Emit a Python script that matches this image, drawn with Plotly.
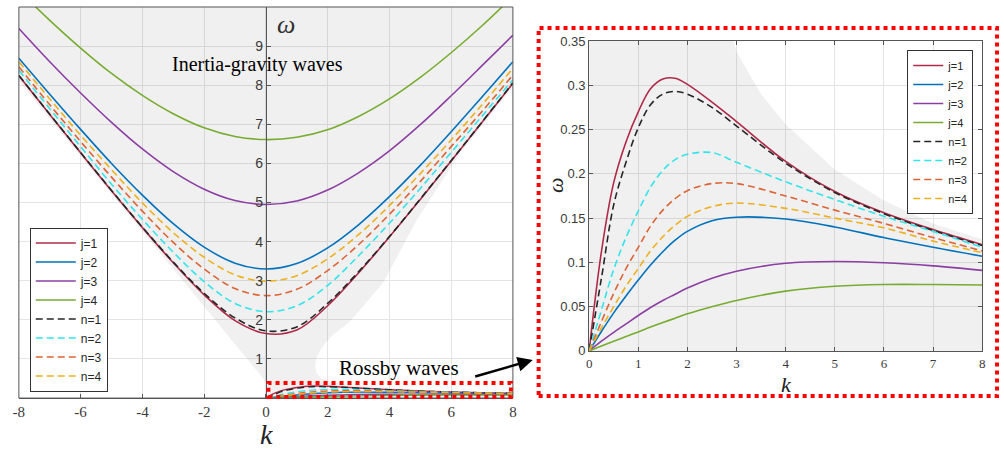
import plotly.graph_objects as go

W, H = 1004, 453

# ---------------- data ----------------
# Inertia-gravity branch (left panel)
k_ig = [-8, -7, -6, -5, -4, -3, -2, -1, 0, 1, 2, 3, 4, 5, 6, 7, 8]
ig_j1 = [8.24, 7.25, 6.27, 5.30, 4.36, 3.46, 2.64, 1.98, 1.65, 1.74, 2.36, 3.20, 4.12, 5.08, 6.06, 7.05, 8.05]
ig_j2 = [8.69, 7.77, 6.87, 6.00, 5.19, 4.46, 3.86, 3.45, 3.30, 3.44, 3.84, 4.43, 5.15, 5.95, 6.81, 7.70, 8.60]
ig_j3 = [9.45, 8.60, 7.80, 7.05, 6.37, 5.79, 5.34, 5.05, 4.95, 5.04, 5.32, 5.76, 6.32, 6.99, 7.73, 8.50, 9.28]
ig_j4 = [10.42, 9.66, 8.95, 8.30, 7.74, 7.27, 6.91, 6.69, 6.61, 6.67, 6.86, 7.20, 7.65, 8.20, 8.83, 9.52, 10.27]
ig_n1 = [8.25, 7.26, 6.28, 5.31, 4.37, 3.48, 2.68, 2.05, 1.72, 1.82, 2.42, 3.23, 4.13, 5.09, 6.07, 7.06, 8.06]
ig_n2 = [8.38, 7.40, 6.43, 5.47, 4.57, 3.73, 2.98, 2.42, 2.21, 2.36, 2.88, 3.64, 4.47, 5.36, 6.28, 7.21, 8.14]
ig_n3 = [8.47, 7.50, 6.56, 5.65, 4.78, 3.98, 3.30, 2.80, 2.62, 2.78, 3.26, 3.92, 4.70, 5.54, 6.43, 7.33, 8.26]
ig_n4 = [8.60, 7.65, 6.72, 5.84, 4.99, 4.23, 3.60, 3.15, 2.99, 3.13, 3.56, 4.18, 4.92, 5.74, 6.60, 7.50, 8.43]

# Rossby branch (right panel, also drawn small in the left panel)
k_r = [0, 0.25, 0.5, 0.75, 1, 1.25, 1.5, 1.75, 2, 2.5, 3, 4, 5, 6, 7, 8]
r_j1 = [0, 0.112, 0.190, 0.236, 0.270, 0.296, 0.307, 0.308, 0.301, 0.281, 0.259, 0.214, 0.180, 0.156, 0.137, 0.120]
r_j2 = [0, 0.022, 0.043, 0.062, 0.080, 0.097, 0.112, 0.125, 0.135, 0.147, 0.151, 0.149, 0.140, 0.128, 0.117, 0.107]
r_j3 = [0, 0.011, 0.021, 0.0305, 0.040, 0.049, 0.057, 0.064, 0.071, 0.082, 0.090, 0.099, 0.101, 0.0995, 0.096, 0.091]
r_j4 = [0, 0.0055, 0.011, 0.0163, 0.0215, 0.027, 0.032, 0.037, 0.042, 0.050, 0.057, 0.0675, 0.073, 0.075, 0.075, 0.0745]
r_n1 = [0, 0.082, 0.165, 0.213, 0.252, 0.278, 0.290, 0.293, 0.290, 0.275, 0.254, 0.212, 0.179, 0.155, 0.136, 0.119]
r_n2 = [0, 0.046, 0.092, 0.128, 0.158, 0.185, 0.204, 0.216, 0.222, 0.224, 0.213, 0.191, 0.171, 0.152, 0.135, 0.117]
r_n3 = [0, 0.033, 0.065, 0.093, 0.117, 0.141, 0.159, 0.172, 0.181, 0.189, 0.189, 0.175, 0.159, 0.144, 0.128, 0.113]
r_n4 = [0, 0.026, 0.050, 0.073, 0.093, 0.113, 0.129, 0.142, 0.152, 0.163, 0.167, 0.161, 0.150, 0.139, 0.124, 0.111]

# shaded (grey) admissible regions
ig_left_k = [0, -8]
ig_left_w = [0.42, 8.1]
ig_edge_k = [8.0, 6.3, 4.9, 3.8, 2.7, 2.15, 1.85, 1.65, 1.6, 1.64, 1.8, 2.3]
ig_edge_w = [7.95, 6.27, 4.57, 2.95, 1.94, 1.6, 1.34, 1.05, 0.83, 0.65, 0.49, 0.38]
ro_edge_k = [2.94, 3, 3.5, 4, 5, 6, 7, 8]
ro_edge_w = [0.35, 0.338, 0.29, 0.256, 0.205, 0.170, 0.144, 0.126]

labels = ["j=1", "j=2", "j=3", "j=4", "n=1", "n=2", "n=3", "n=4"]
colors = ["#b02a48", "#0072BD", "#8c3fa3", "#77AC30", "#262626", "#33e4ea", "#dc6436", "#EDB120"]
dashes = ["solid"] * 4 + ["7px,4px"] * 4
ig_series = [ig_j1, ig_j2, ig_j3, ig_j4, ig_n1, ig_n2, ig_n3, ig_n4]
r_series = [r_j1, r_j2, r_j3, r_j4, r_n1, r_n2, r_n3, r_n4]

x_ticks_left = [-8, -6, -4, -2, 0, 2, 4, 6, 8]
y_ticks_left = [1, 2, 3, 4, 5, 6, 7, 8, 9]
x_ticks_right = [0, 1, 2, 3, 4, 5, 6, 7, 8]
y_ticks_right = [0, 0.05, 0.1, 0.15, 0.2, 0.25, 0.3, 0.35]

# observed vertical mapping of the photographed page (page y -> picture y)
V_SCALE, V_OFF = 0.964, 6.1


def px(x):
    return x / W


def py(y):
    yp = (y - V_OFF) / V_SCALE
    return min(1.0, max(0.0, 1 - yp / H))


fig = go.Figure()

SHADE = "rgba(0,0,0,0.06)"

# left panel shading
left_poly_k = [-8, 8] + ig_edge_k + ro_edge_k + [8, 0] + ig_left_k
left_poly_w = [10, 10] + ig_edge_w + ro_edge_w + [0, 0] + ig_left_w
fig.add_trace(go.Scatter(x=left_poly_k, y=left_poly_w, fill="toself", fillcolor=SHADE,
                         line=dict(width=0), mode="lines", showlegend=False,
                         hoverinfo="skip", xaxis="x", yaxis="y"))
# right panel shading
right_poly_k = [0, 0] + ro_edge_k + [8]
right_poly_w = [0, 0.35] + ro_edge_w + [0]
fig.add_trace(go.Scatter(x=right_poly_k, y=right_poly_w, fill="toself", fillcolor=SHADE,
                         line=dict(width=0), mode="lines", showlegend=False,
                         hoverinfo="skip", xaxis="x2", yaxis="y2"))

# left panel curves
for lab, c, d, ys in zip(labels, colors, dashes, ig_series):
    fig.add_trace(go.Scatter(x=k_ig, y=ys, mode="lines", name=lab,
                             line=dict(color=c, width=1.6, dash=d, shape="spline"),
                             xaxis="x", yaxis="y", legend="legend"))
# Rossby curves in the left panel (tiny)
for lab, c, d, ys in zip(labels, colors, dashes, r_series):
    fig.add_trace(go.Scatter(x=k_r, y=ys, mode="lines", name=lab, showlegend=False,
                             line=dict(color=c, width=1.4, dash=d, shape="spline"),
                             xaxis="x", yaxis="y"))
# right panel curves
for lab, c, d, ys in zip(labels, colors, dashes, r_series):
    fig.add_trace(go.Scatter(x=k_r, y=ys, mode="lines", name=lab,
                             line=dict(color=c, width=1.6, dash=d, shape="spline"),
                             xaxis="x2", yaxis="y2", legend="legend2"))

AX = "#555555"
GRID = "#e4e4e4"
serif = "Liberation Serif"
sans = "Liberation Sans"

fig.update_layout(
    width=W, height=H,
    margin=dict(l=0, r=0, t=0, b=0),
    paper_bgcolor="white", plot_bgcolor="white",
    showlegend=True,
    xaxis=dict(domain=[px(13), px(512)], range=[-8, 8], tickvals=x_ticks_left,
               ticktext=[str(v) for v in x_ticks_left],
               tickfont=dict(family=serif, size=15, color="#3a3a3a"),
               showgrid=True, gridcolor=GRID, gridwidth=1, zeroline=False,
               showline=True, linecolor=AX, linewidth=1, ticks="inside", ticklen=4,
               tickcolor=AX, anchor="y"),
    yaxis=dict(domain=[py(396), py(4)], range=[0, 10], tickvals=y_ticks_left,
               tickfont=dict(family=sans, size=14, color="#3a3a3a"),
               showgrid=True, gridcolor=GRID, gridwidth=1, zeroline=False,
               showline=True, linecolor=AX, linewidth=1, ticks="inside", ticklen=4,
               tickcolor=AX, anchor="free", position=px(262.5), side="left"),
    xaxis2=dict(domain=[px(589), px(986)], range=[0, 8], tickvals=x_ticks_right,
                tickfont=dict(family=serif, size=13, color="#3a3a3a"),
                showgrid=True, gridcolor=GRID, gridwidth=1, zeroline=False,
                showline=True, mirror="ticks", linecolor=AX, linewidth=1,
                ticks="inside", ticklen=4, tickcolor=AX, anchor="y2"),
    yaxis2=dict(domain=[py(349), py(40)], range=[0, 0.35], tickvals=y_ticks_right,
                tickfont=dict(family=sans, size=13, color="#3a3a3a"),
                showgrid=True, gridcolor=GRID, gridwidth=1, zeroline=False,
                showline=True, mirror="ticks", linecolor=AX, linewidth=1,
                ticks="inside", ticklen=4, tickcolor=AX, anchor="x2"),
    legend=dict(x=px(24), y=py(226), xanchor="left", yanchor="top",
                bgcolor="white", bordercolor="#333333", borderwidth=1,
                font=dict(family=sans, size=12, color="#262626"),
                tracegroupgap=0, itemwidth=40),
    legend2=dict(x=px(977), y=py(49), xanchor="right", yanchor="top",
                 bgcolor="white", bordercolor="#333333", borderwidth=1,
                 font=dict(family=sans, size=11, color="#262626"),
                 tracegroupgap=0, itemwidth=30),
)

# box around left panel
fig.add_shape(type="rect", xref="x domain", yref="y domain", x0=0, x1=1, y0=0, y1=1,
              line=dict(color=AX, width=1), layer="above")

# red dotted boxes
fig.add_shape(type="rect", xref="paper", yref="paper",
              x0=px(265), x1=px(510), y0=py(395), y1=py(381),
              line=dict(color="#ff0000", width=4, dash="dot"), layer="above")
fig.add_shape(type="rect", xref="paper", yref="paper",
              x0=px(538), x1=px(1001), y0=py(394), y1=py(27),
              line=dict(color="#ff0000", width=4, dash="dot"), layer="above")


def label(x, y, text, size, color="#222222", angle=0, box_h=None):
    fig.add_annotation(x=px(x), y=py(y), xref="paper", yref="paper", showarrow=False,
                       xanchor="center", yanchor="middle", text=text, textangle=angle,
                       height=box_h, valign="middle",
                       font=dict(family=serif, size=size, color=color))


label(254, 63, "Inertia-gravity waves", 20, "black")
label(397, 366, "Rossby waves", 21, "black")
label(283, 24, "<i>ω</i>", 26, "#333333")
label(263, 432, "<i>k</i>", 28, box_h=20)
label(788, 382, "<i>k</i>", 22)
label(555, 183, "<i>ω</i>", 22, angle=-90)

# arrow
fig.add_annotation(x=px(532), y=py(358), xref="paper", yref="paper", text="",
                   showarrow=True, ax=-59, ay=17, axref="pixel", ayref="pixel",
                   arrowhead=2, arrowsize=1.2, arrowwidth=2.5, arrowcolor="black")

fig.write_html("out.html", config={"displayModeBar": False},
               post_script="document.body.style.margin='0px';document.body.style.overflow='hidden';")
